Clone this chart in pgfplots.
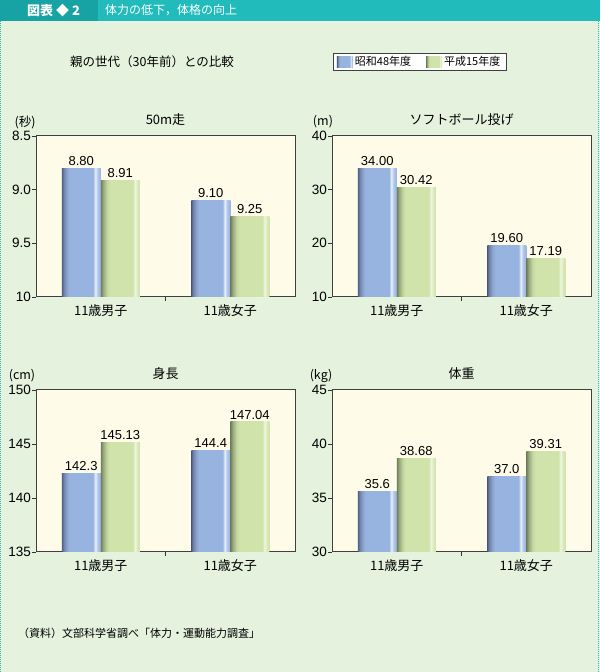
\documentclass[border=0pt]{standalone}
\usepackage{fontspec}
\setmainfont{Liberation Sans}
\newfontfamily\jp{Noto Sans CJK JP}
\usepackage{pgfplots}
\pgfplotsset{compat=1.18}
\usepackage{pgfplotstable}

\definecolor{bg}{HTML}{E4F2DE}
\definecolor{headteal}{HTML}{22BBBB}
\definecolor{headdark}{HTML}{17A3A3}
\definecolor{cream}{HTML}{FEFCE8}
\definecolor{bdark}{HTML}{4D5B7D}
\definecolor{bmid}{HTML}{6A7DA6}
\definecolor{bmain}{HTML}{97B3DF}
\definecolor{bhi}{HTML}{E8F0FB}
\definecolor{bend}{HTML}{AFC6EA}
\definecolor{gdark}{HTML}{6E7D5A}
\definecolor{gmid}{HTML}{97A87A}
\definecolor{gmain}{HTML}{CFE3AA}
\definecolor{ghi}{HTML}{EFF6E0}
\definecolor{gend}{HTML}{D8E9BC}

\pgfdeclarehorizontalshading{bluebar}{100bp}{color(0bp)=(bdark); color(25bp)=(bdark); color(27bp)=(bmid); color(31bp)=(bmain!90!black); color(35bp)=(bmain); color(65bp)=(bmain); color(68bp)=(bhi); color(71bp)=(bend); color(75bp)=(bmain); color(100bp)=(bmain)}
\pgfdeclarehorizontalshading{greenbar}{100bp}{color(0bp)=(gdark); color(25bp)=(gdark); color(28bp)=(gmid); color(33bp)=(gmain!95!black); color(37bp)=(gmain); color(66bp)=(gmain); color(69bp)=(ghi); color(72bp)=(gend); color(75bp)=(gmain); color(100bp)=(gmain)}

\pgfplotstableread{
x a alab b blab
0 8.80 8.80 8.91 8.91
1 9.10 9.10 9.25 9.25
}\tabRun
\pgfplotstableread{
x a alab b blab
0 34.00 34.00 30.42 30.42
1 19.60 19.60 17.19 17.19
}\tabBall
\pgfplotstableread{
x a alab b blab
0 142.3 142.3 145.13 145.13
1 144.4 144.4 147.04 147.04
}\tabHeight
\pgfplotstableread{
x a alab b blab
0 35.6 35.6 38.68 38.68
1 37.0 37.0 39.31 39.31
}\tabWeight

\pgfplotsset{
  panel/.style={
    scale only axis, width=259pt, height=161pt,
    xmin=-0.5, xmax=1.5,
    xtick={0,1}, xticklabels={11歳男子,11歳女子},
    xticklabel style={font=\jp\fontsize{13}{13}\selectfont, text=black},
    major x tick style={draw=none},
    minor xtick={0.5}, minor x tick style={draw=black!80, line width=0.8pt},
    minor tick length=4pt,
    xtick align=inside, ytick align=outside,
    major tick length=4pt,
    tick pos=left,
    ytick style={draw=black!80, line width=0.8pt},
    yticklabel style={font=\fontsize{13.5}{13.5}\selectfont, inner sep=1pt, text=black},
    /pgf/number format/assume math mode=true,
    axis line style={draw=black!75, line width=1pt},
    axis background/.style={fill=cream},
    ybar=0pt, bar width=39pt,
    nodes near coords, point meta=explicit symbolic,
    nodes near coords style={font=\fontsize{13}{13}\selectfont, text=black, inner sep=2.5pt},
    title style={font=\jp\fontsize{13}{13}\selectfont, anchor=center, at={(0.5,1)}, yshift=10pt},
    legend image code/.code={\path[#1] (0pt,-5.5pt) rectangle (16pt,5.5pt);},
  },
  bluestyle/.style={draw=none, shade, shading=bluebar, bar shift=-19.5pt},
  greenstyle/.style={draw=none, shade, shading=greenbar, bar shift=19.5pt},
  cat0/.style={restrict x to domain=-0.1:0.1},
  cat1/.style={restrict x to domain=0.9:1.1, forget plot},
}

\begin{document}
\begin{tikzpicture}[x=1pt,y=1pt]
\useasboundingbox (0,0) rectangle (600,672);
\fill[bg] (0,0) rectangle (600,672);
\fill[headteal] (0,651) rectangle (600,672);
\fill[headdark] (0,651) rectangle (98,672);
\draw[headteal, line width=1.2pt, dash pattern=on 1pt off 1pt] (0.6,0) -- (0.6,651);
\draw[headteal, line width=1.2pt, dash pattern=on 1pt off 1pt] (598.4,0) -- (598.4,651);
\node[anchor=west, text=white, font=\jp\bfseries\fontsize{13}{13}\selectfont, inner sep=0pt] at (27,661.5) {図表\hspace{3pt}◆\hspace{3pt}2};
\node[anchor=west, text=white, font=\jp\fontsize{12}{12}\selectfont, inner sep=0pt] at (105,661.5) {体力の低下，体格の向上};
\node[anchor=west, font=\jp\fontsize{12.5}{12.5}\selectfont, inner sep=0pt] at (70,610) {親の世代（30年前）との比較};
\node[anchor=west, font=\jp\fontsize{11}{11}\selectfont, inner sep=0pt] at (18,39) {（資料）文部科学省調べ「体力・運動能力調査」};

% units
\node[font=\jp\fontsize{12.5}{12.5}\selectfont, inner sep=0pt] at (25,550) {(秒)};
\node[font=\jp\fontsize{12.5}{12.5}\selectfont, inner sep=0pt] at (323,550) {(m)};
\node[font=\jp\fontsize{12.5}{12.5}\selectfont, inner sep=0pt] at (22,296) {(cm)};
\node[font=\jp\fontsize{12.5}{12.5}\selectfont, inner sep=0pt] at (321,296) {(kg)};

% Panel 1: 50m run (reversed scale, bars rise from 10 s)
\begin{axis}[panel, at={(36pt,375pt)}, anchor=south west,
  title={50m走},
  ymin=0, ymax=1.5, ytick={0,0.5,1,1.5}, yticklabels={10,9.5,9.0,8.5}]
\addplot[bluestyle, cat0] table[x=x, y expr=10-\thisrow{a}, meta=alab]{\tabRun};
\addplot[bluestyle, cat1] table[x=x, y expr=10-\thisrow{a}, meta=alab]{\tabRun};
\addplot[greenstyle, cat0] table[x=x, y expr=10-\thisrow{b}, meta=blab]{\tabRun};
\addplot[greenstyle, cat1] table[x=x, y expr=10-\thisrow{b}, meta=blab]{\tabRun};
\end{axis}

% Panel 2: softball throw
\begin{axis}[panel, at={(332pt,375pt)}, anchor=south west,
  title={ソフトボール投げ},
  ymin=10, ymax=40, ytick={10,20,30,40},
  legend columns=2,
  legend style={at={(axis description cs:0.002,1.515)}, anchor=north west,
    draw=black!75, line width=0.8pt, fill=white,
    font=\jp\fontsize{11}{11}\selectfont, inner xsep=4pt, inner ysep=1pt,
    /tikz/every even column/.append style={column sep=13pt}}]
\addplot[bluestyle, cat0] table[x=x, y=a, meta=alab]{\tabBall};
\addlegendentry{昭和48年度}
\addplot[bluestyle, cat1] table[x=x, y=a, meta=alab]{\tabBall};
\addplot[greenstyle, cat0] table[x=x, y=b, meta=blab]{\tabBall};
\addlegendentry{平成15年度}
\addplot[greenstyle, cat1] table[x=x, y=b, meta=blab]{\tabBall};
\end{axis}

% Panel 3: height
\begin{axis}[panel, at={(36pt,120pt)}, anchor=south west, height=162pt,
  title={身長},
  ymin=135, ymax=150, ytick={135,140,145,150}]
\addplot[bluestyle, cat0] table[x=x, y=a, meta=alab]{\tabHeight};
\addplot[bluestyle, cat1] table[x=x, y=a, meta=alab]{\tabHeight};
\addplot[greenstyle, cat0] table[x=x, y=b, meta=blab]{\tabHeight};
\addplot[greenstyle, cat1] table[x=x, y=b, meta=blab]{\tabHeight};
\end{axis}

% Panel 4: weight
\begin{axis}[panel, at={(332pt,120pt)}, anchor=south west, height=162pt,
  title={体重},
  ymin=30, ymax=45, ytick={30,35,40,45}]
\addplot[bluestyle, cat0] table[x=x, y=a, meta=alab]{\tabWeight};
\addplot[bluestyle, cat1] table[x=x, y=a, meta=alab]{\tabWeight};
\addplot[greenstyle, cat0] table[x=x, y=b, meta=blab]{\tabWeight};
\addplot[greenstyle, cat1] table[x=x, y=b, meta=blab]{\tabWeight};
\end{axis}
\end{tikzpicture}
\end{document}
